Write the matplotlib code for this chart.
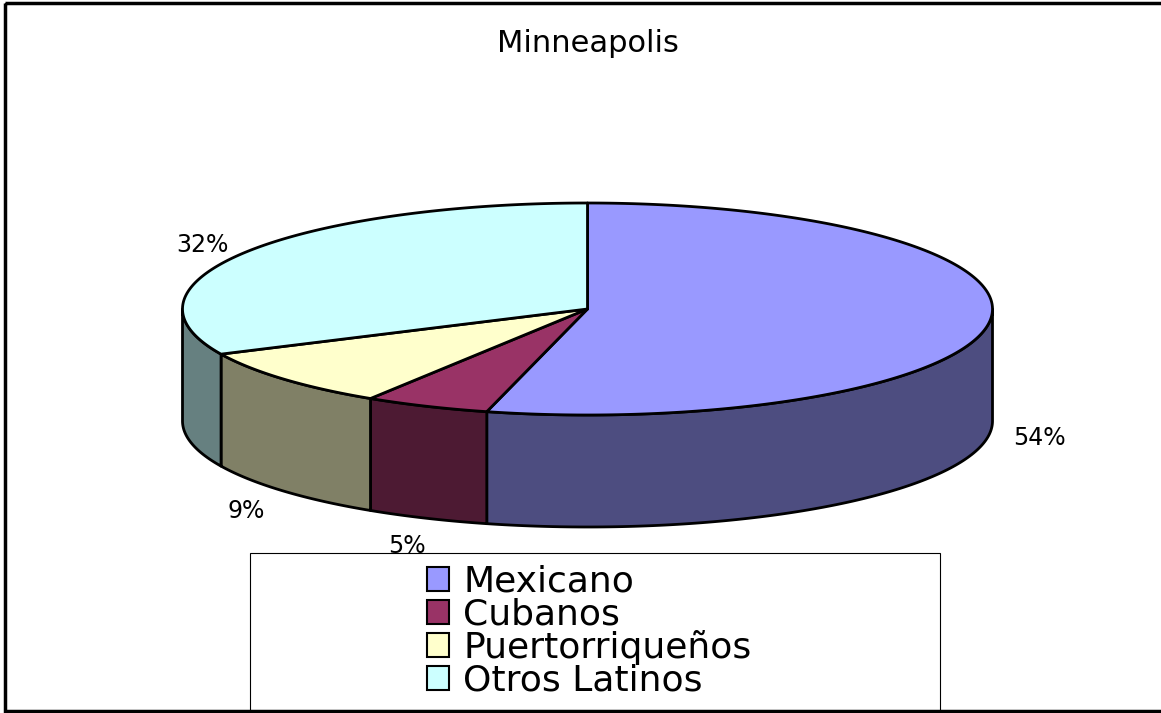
import numpy as np
import matplotlib.pyplot as plt
from matplotlib.patches import Polygon, Rectangle

title = "Minneapolis"
groups = ["Mexicano", "Cubanos", "Puertorriqueños", "Otros Latinos"]
shares = [54, 5, 9, 32]
top_colors = ["#9999ff", "#993366", "#ffffcc", "#ccffff"]
side_colors = ["#4d4d80", "#4d1a33", "#808066", "#668080"]

W, H = 1161, 713
fig = plt.figure(figsize=(W / 100, H / 100), dpi=100)
ax = fig.add_axes([0, 0, 1, 1])
ax.set_xlim(0, W)
ax.set_ylim(H, 0)
ax.axis('off')

# pie geometry in pixels
cx, cy, a, b, depth = 587.5, 309, 405, 106, 112


def rim(t):
    r = np.radians(t)
    return cx + a * np.cos(r), cy - b * np.sin(r)


fracs = np.array(shares) / sum(shares)
ends = 90 - 360 * np.cumsum(fracs)
starts = np.concatenate([[90], ends[:-1]])

# side walls (front half only)
for s, e, c in zip(starts, ends, side_colors):
    lo, hi = max(e, -180), min(s, 0)
    if lo < hi:
        t = np.linspace(hi, lo, 120)
        x, y = rim(t)
        pts = np.column_stack([np.concatenate([x, x[::-1]]),
                               np.concatenate([y, y[::-1] + depth])])
        ax.add_patch(Polygon(pts, closed=True, fc=c, ec='black', lw=2, joinstyle='round'))

# top faces
for s, e, c in zip(starts, ends, top_colors):
    t = np.linspace(s, e, 240)
    x, y = rim(t)
    pts = np.column_stack([np.concatenate([[cx], x]), np.concatenate([[cy], y])])
    ax.add_patch(Polygon(pts, closed=True, fc=c, ec='black', lw=2, joinstyle='round'))

# percent labels
for s, e, p in zip(starts, ends, shares):
    m = np.radians((s + e) / 2)
    front = np.sin(m) < 0
    x = cx + 1.125 * a * np.cos(m)
    y = cy - (1.28 if front else 1.13) * b * np.sin(m) + (depth if front else 0)
    ax.text(x, y, f"{p}%", ha='center', va='center', fontsize=17)

ax.text(cx, 43, title, ha='center', va='center', fontsize=22)

# legend box and outer frame
ax.add_patch(Rectangle((250, 553), 690, 200, fc='white', ec='black', lw=0.8, zorder=3))
ax.add_patch(Rectangle((5, 3), 1200, 708, fill=False, ec='black', lw=2.5, zorder=6))

handles = [Rectangle((0, 0), 1, 1, fc=c, ec='black', lw=1.5) for c in top_colors]
leg = ax.legend(handles, groups, loc='upper left', bbox_to_anchor=(427 / W, 1 - 565 / H),
                frameon=False, fontsize=26, handlelength=0.61, handleheight=0.64,
                handletextpad=0.39, labelspacing=-0.04, borderpad=0, borderaxespad=0)
leg.set_zorder(5)

fig.savefig("out.png", dpi=100)
